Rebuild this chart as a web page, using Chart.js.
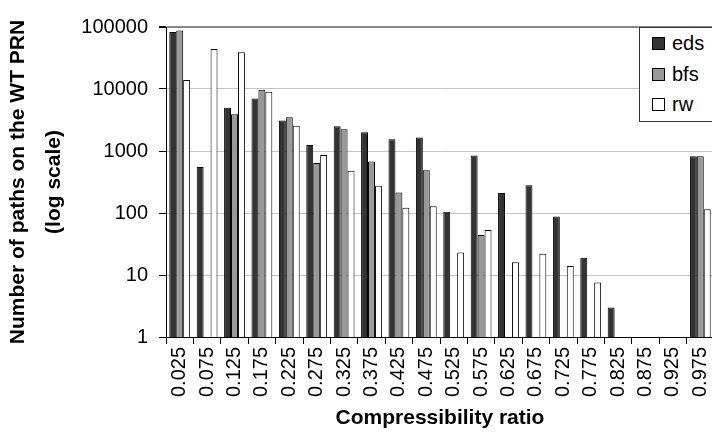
<!DOCTYPE html>
<html>
<head>
<meta charset="utf-8">
<script src="https://cdn.jsdelivr.net/npm/chart.js@4.4.0/dist/chart.umd.min.js"></script>
<style>
  html, body { margin: 0; padding: 0; background: #fff; overflow: hidden; }
  #wrap { position: relative; width: 714px; height: 444px; }
  #legend {
    position: absolute; background: #fff; border: 1px solid #333;
    font: 20px "Liberation Sans", Arial, sans-serif; color: #000;
    width: 90px; height: 95px; box-sizing: border-box;
  }
  #legend .item { position: absolute; left: 12px; height: 24px; line-height: 24px; white-space: nowrap; }
  #legend .sw { display: inline-block; width: 11px; height: 11px; border: 1px solid #000; vertical-align: middle; margin-right: 7px; position: relative; top: -1px; }
</style>
</head>
<body>
<div id="wrap">
  <canvas id="chart"></canvas>
  <div id="legend"></div>
</div>
<script>
// --- data (null = no bar) ---
const CATEGORIES = ['0.025', '0.075', '0.125', '0.175', '0.225', '0.275', '0.325', '0.375', '0.425', '0.475',
                    '0.525', '0.575', '0.625', '0.675', '0.725', '0.775', '0.825', '0.875', '0.925', '0.975'];
const EDS = [83000, 550, 5000, 7000, 3100, 1250, 2500, 2000, 1550, 1650, 105, 850, 210, 280, 88, 19, 3, null, null, 820];
const BFS = [88000, null, 3900, 9700, 3500, 640, 2250, 680, 215, 490, null, 44, null, null, null, null, null, null, null, 820];
const RW = [14000, 44000, 39000, 9000, 2550, 860, 480, 275, 122, 128, 23, 53, 16, 22, 14, 7.6, null, null, null, 115];
const Y_TICKS = [1, 10, 100, 1000, 10000, 100000];
const Y_TICK_LABELS = ['1', '10', '100', '1000', '10000', '100000'];

const FONT = '"Liberation Sans", Arial, sans-serif';

const ctx = document.getElementById('chart').getContext('2d');
const chart = new Chart(ctx, {
    type: 'bar',
    data: {
        labels: CATEGORIES,
        datasets: [
            { label: 'eds', data: EDS, backgroundColor: '#333333' },
            { label: 'bfs', data: BFS, backgroundColor: '#999999' },
            { label: 'rw', data: RW, backgroundColor: '#ffffff' }
        ].map(d => Object.assign(d, {
            borderColor: '#000', borderWidth: 1,
            barPercentage: 1, categoryPercentage: 0.76
        }))
    },
    options: {
        responsive: true,
        maintainAspectRatio: false,
        animation: false,
        layout: { padding: { top: 27, right: 0, left: 0, bottom: 0 } },
        plugins: {
            legend: { display: false },
            tooltip: { enabled: false }
        },
        scales: {
            x: {
                offset: true,
                grid: {
                    offset: true, drawOnChartArea: false, drawTicks: true,
                    tickLength: 7, color: '#000', tickColor: '#000'
                },
                border: { color: '#000', width: 1 },
                ticks: {
                    color: '#000', font: { family: FONT, size: 20 },
                    minRotation: 90, maxRotation: 90, padding: 3, autoSkip: false
                },
                title: {
                    display: true, text: 'Compressibility ratio', color: '#000',
                    font: { family: FONT, size: 21, weight: 'bold' },
                    padding: { top: 0, bottom: 13 }
                },
                afterFit: s => { s.height = 107; s.paddingLeft = 0; s.paddingRight = 0; }
            },
            y: {
                type: 'logarithmic',
                min: 1,
                max: 100000,
                afterBuildTicks: s => { s.ticks = Y_TICKS.map(v => ({ value: v })); },
                afterFit: s => { s.width = 166; },
                grid: {
                    color: c => (c.tick && c.tick.value === 100000) ? '#888888' : '#c4c4c4',
                    lineWidth: c => (c.tick && c.tick.value === 100000) ? 2 : 1,
                    drawTicks: true, tickLength: 7, tickColor: '#000'
                },
                border: { color: '#000', width: 1 },
                ticks: {
                    color: '#000', font: { family: FONT, size: 20 }, padding: 11,
                    callback: (v, i) => Y_TICK_LABELS[i]
                },
                title: {
                    display: true,
                    text: ['Number of paths on the WT PRN', '(log scale)'],
                    color: '#000',
                    font: { family: FONT, size: 21, weight: 'bold', lineHeight: 1.72 },
                    padding: { top: 0, bottom: 0 }
                }
            }
        }
    }
});

// --- HTML legend box in the top-right corner of the plot ---
function buildLegend() {
    const area = chart.chartArea;
    const box = document.getElementById('legend');
    box.style.left = (area.right - 75) + 'px';
    box.style.top = area.top + 'px';
    box.innerHTML = '';
    chart.data.datasets.forEach((ds, i) => {
        const item = document.createElement('div');
        item.className = 'item';
        item.style.top = (3 + i * 30.5) + 'px';
        item.innerHTML = '<span class="sw" style="background:' + ds.backgroundColor + '"></span>' + ds.label;
        box.appendChild(item);
    });
}
buildLegend();
</script>
</body>
</html>
